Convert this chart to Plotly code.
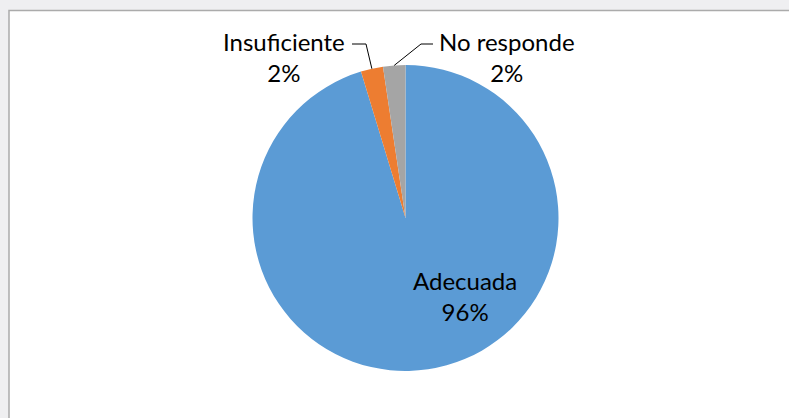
import math
import plotly.graph_objects as go

# ---- data (slice sizes; labels as printed) ----
categories = ["Adecuada", "Insuficiente", "No responde"]
values = [95.3, 2.35, 2.35]
pct_labels = ["96%", "2%", "2%"]
colors = ["#5B9BD5", "#ED7D31", "#A5A5A5"]

# ---- layout constants (pixels) ----
W, H = 789, 418
cx, cy, R = 405.5, 218, 153

def px(x):
    return x / W

def py(y):
    return 1 - y / H

total = sum(values)

fig = go.Figure(
    go.Pie(
        labels=categories,
        values=values,
        sort=False,
        direction="clockwise",
        rotation=0,
        marker=dict(colors=colors, line=dict(width=0)),
        textinfo="none",
        hoverinfo="label+percent",
        showlegend=False,
        domain=dict(x=[px(cx - R), px(cx + R)], y=[py(cy + R), py(cy - R)]),
    )
)

# label placement (pixel centre of text block) and leader elbow per category
label_pos = {
    "Adecuada": (465, 296, None),
    "Insuficiente": (284, 57, (352, 366, 44)),
    "No responde": (507, 57, (433, 421, 44)),
}

shapes = [
    dict(type="rect", xref="paper", yref="paper", layer="below",
         x0=px(9), x1=1.05, y0=-0.05, y1=py(10.5),
         fillcolor="white", line=dict(color="#ABABAB", width=1.5)),
]
annotations = []
cum = 0
for cat, v, lab in zip(categories, values, pct_labels):
    mid = (cum + v / 2) / total * 2 * math.pi
    cum += v
    lx, ly, leader = label_pos[cat]
    annotations.append(dict(
        x=px(lx), y=py(ly), xref="paper", yref="paper",
        text=f"{cat}<br>{lab}", showarrow=False,
        xanchor="center", yanchor="middle",
        font=dict(family="Lato", size=24, color="#000000"),
    ))
    if leader:
        ex = cx + R * math.sin(mid)
        ey = cy - R * math.cos(mid)
        x_start, x_elbow, y_elbow = leader
        path = (f"M {px(x_start)} {py(y_elbow)} L {px(x_elbow)} {py(y_elbow)} "
                f"L {px(ex)} {py(ey)}")
        shapes.append(dict(type="path", xref="paper", yref="paper", path=path,
                           line=dict(color="#000000", width=1)))

fig.update_layout(
    width=W, height=H,
    margin=dict(l=0, r=0, t=0, b=0),
    paper_bgcolor="#EFEFF1",
    plot_bgcolor="white",
    shapes=shapes,
    annotations=annotations,
)

fig.write_html(
    "out.html",
    config={"displayModeBar": False},
    post_script="document.body.style.margin='0';document.body.style.overflow='hidden';",
)
